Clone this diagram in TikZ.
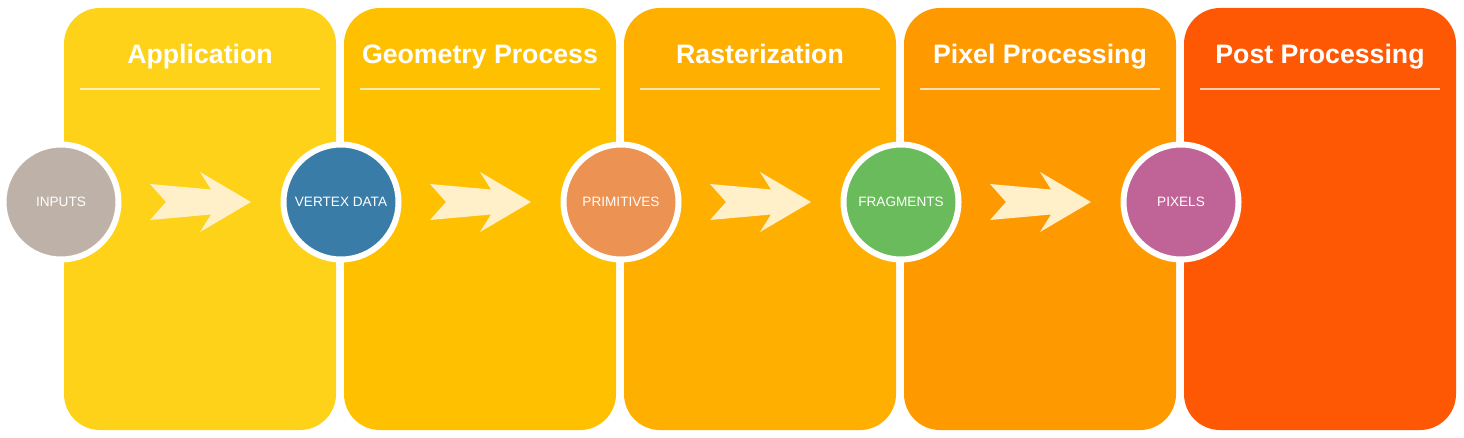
\documentclass[tikz,border=0pt]{standalone}
\usepackage{fontspec}
\setmainfont{Liberation Sans}
\usetikzlibrary{calc}
\definecolor{pA}{RGB}{253,210,24}
\definecolor{pB}{RGB}{255,192,0}
\definecolor{pC}{RGB}{255,175,0}
\definecolor{pD}{RGB}{255,153,0}
\definecolor{pE}{RGB}{255,88,5}
\definecolor{cInputs}{RGB}{190,178,168}
\definecolor{cVertex}{RGB}{58,124,168}
\definecolor{cPrim}{RGB}{236,146,82}
\definecolor{cFrag}{RGB}{106,187,91}
\definecolor{cPix}{RGB}{192,100,152}
\definecolor{arrowc}{RGB}{255,240,202}
\begin{document}
\begin{tikzpicture}[x=1pt,y=-1pt,
  panel/.style={rectangle,rounded corners=36pt,minimum width=272pt,minimum height=422pt,inner sep=0pt,outer sep=0pt},
  title/.style={text=white,font=\fontsize{26.7}{30}\selectfont\bfseries,anchor=base,inner sep=0pt},
  hline/.style={draw=white,draw opacity=0.7,line width=2pt},
  stage/.style={circle,minimum size=115pt,inner sep=0pt,outer sep=0pt,draw=white,line width=6pt,text=white,font=\fontsize{13.6}{16}\selectfont},
  chev/.pic={\fill[arrowc] (-51,-18) -- (-35,0) -- (-51,18) -- (10,12.5) -- (-1,30) -- (50,0) -- (-1,-30) -- (10,-12.5) -- cycle;}
]
\fill[white] (0,0) rectangle (1464,438);
\useasboundingbox (0,0) rectangle (1464,438);
% panels
\node[panel,fill=pA] (p1) at (200,219) {};
\node[panel,fill=pB] (p2) at (480,219) {};
\node[panel,fill=pC] (p3) at (760,219) {};
\node[panel,fill=pD] (p4) at (1040,219) {};
\node[panel,fill=pE] (p5) at (1320,219) {};
% titles
\node[title] (t1) at (200,64) {Application};
\node[title] (t2) at (480,64) {Geometry Process};
\node[title] (t3) at (760,64) {Rasterization};
\node[title] (t4) at (1040,64) {Pixel Processing};
\node[title] (t5) at (1320,64) {Post Processing};
% header lines
\draw[hline] (80,89) -- (320,89);
\draw[hline] (360,89) -- (600,89);
\draw[hline] (640,89) -- (880,89);
\draw[hline] (920,89) -- (1160,89);
\draw[hline] (1200,89) -- (1440,89);
% stages
\node[stage,fill=cInputs] (c1) at (61,202) {INPUTS};
\node[stage,fill=cVertex] (c2) at (341,202) {VERTEX DATA};
\node[stage,fill=cPrim] (c3) at (621,202) {PRIMITIVES};
\node[stage,fill=cFrag] (c4) at (901,202) {FRAGMENTS};
\node[stage,fill=cPix] (c5) at (1181,202) {PIXELS};
% arrows
\pic (a1) at ($(c1)!0.5!(c2)$) {chev};
\pic (a2) at ($(c2)!0.5!(c3)$) {chev};
\pic (a3) at ($(c3)!0.5!(c4)$) {chev};
\pic (a4) at ($(c4)!0.5!(c5)$) {chev};
\end{tikzpicture}
\end{document}
